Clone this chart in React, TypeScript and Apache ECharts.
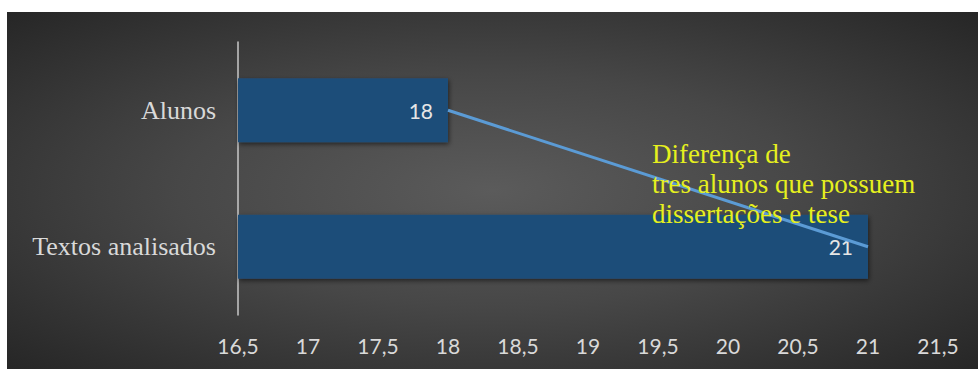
import React, { useEffect, useRef } from "react";
import * as echarts from "echarts";

// Data
const categories = ["Textos analisados", "Alunos"];
const barValues = [21, 18];
const axisMin = 16.5;
const axisMax = 21.5;
const axisStep = 0.5;
const annotationLines = ["Diferença de", "tres alunos que possuem", "dissertações e tese"];

export default function App() {
  const ref = useRef<HTMLDivElement | null>(null);

  useEffect(() => {
    document.body.style.margin = "0";
    document.body.style.overflow = "hidden";
    if (!ref.current) return;
    const chart = echarts.init(ref.current, undefined, { renderer: "svg" });

    const lineData = categories.map((c, i) => [barValues[i], c]);

    chart.setOption({
      animation: false,
      backgroundColor: new echarts.graphic.RadialGradient(0.5, 0.5, 0.72, [
        { offset: 0, color: "#5b5b5b" },
        { offset: 0.45, color: "#474747" },
        { offset: 1, color: "#252525" },
      ]),
      grid: { left: 231, right: 40, top: 30, bottom: 54, containLabel: false },
      xAxis: {
        type: "value",
        min: axisMin,
        max: axisMax,
        interval: axisStep,
        axisLine: { show: false },
        axisTick: { show: false },
        splitLine: { show: false },
        axisLabel: {
          margin: 20,
          color: "#d9d9d9",
          fontFamily: "Lato",
          fontSize: 21,
          formatter: (v: number) => String(v).replace(".", ","),
        },
      },
      yAxis: {
        type: "category",
        data: categories,
        axisLine: { show: true, lineStyle: { color: "#c8c8c8", width: 1.5 } },
        axisTick: { show: false },
        splitLine: { show: false },
        axisLabel: {
          margin: 22,
          color: "#d9d9d9",
          fontFamily: "Liberation Serif",
          fontSize: 26,
        },
      },
      series: [
        {
          type: "bar",
          data: barValues,
          barWidth: 64,
          itemStyle: {
            color: "#1f4e79",
            shadowBlur: 5,
            shadowColor: "rgba(0,0,0,0.55)",
            shadowOffsetX: 1,
            shadowOffsetY: 2,
          },
          label: {
            show: true,
            position: "insideRight",
            distance: 15,
            color: "#e6e6e6",
            fontFamily: "Lato",
            fontSize: 21,
          },
          z: 2,
        },
        {
          type: "line",
          data: lineData,
          showSymbol: false,
          symbol: "none",
          lineStyle: { color: "#5b9bd5", width: 3 },
          z: 5,
        },
      ],
      graphic: [
        {
          type: "text",
          left: 645,
          top: 127,
          z: 10,
          style: {
            text: annotationLines.join("\n"),
            fill: "#e6f01e",
            font: '27px "Liberation Serif"',
            lineHeight: 30,
          },
        },
      ],
    });

    return () => chart.dispose();
  }, []);

  return (
    <div style={{ position: "relative", width: 978, height: 369, background: "#ffffff" }}>
      <div ref={ref} style={{ position: "absolute", left: 7, top: 12, width: 971, height: 357 }} />
    </div>
  );
}
